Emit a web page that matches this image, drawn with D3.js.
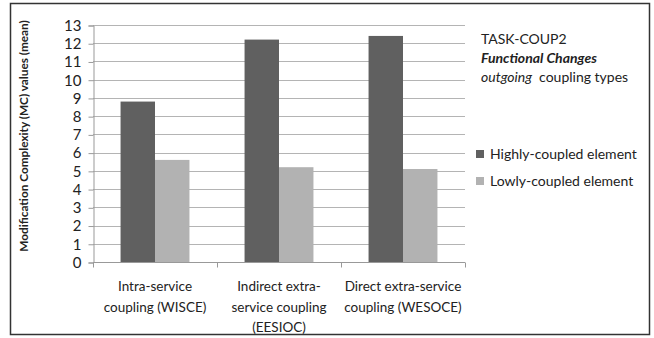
<!DOCTYPE html>
<html>
<head>
<meta charset="utf-8">
<script src="https://cdn.jsdelivr.net/npm/d3@7"></script>
<style>
  body { margin: 0; background: #fff; }
  text { font-family: Lato, "Open Sans", sans-serif; fill: #222; }
</style>
</head>
<body>
<div id="chart"></div>
<script>
(function () {
  var categories = [
    ['Intra-service', 'coupling (WISCE)'],
    ['Indirect extra-', 'service coupling', '(EESIOC)'],
    ['Direct extra-service', 'coupling (WESOCE)']
  ];
  var seriesNames = ['Highly-coupled element', 'Lowly-coupled element'];
  var highly = [8.8, 12.2, 12.4];
  var lowly = [5.6, 5.2, 5.1];
  var yTicks = [0, 1, 2, 3, 4, 5, 6, 7, 8, 9, 10, 11, 12, 13];
  var colors = ['#606060', '#b2b2b2'];

  var width = 654, height = 338;
  var left = 93, right = 465, top = 25, bottom = 262;

  var svg = d3.select('#chart').append('svg')
        .attr('width', width)
        .attr('height', height);

  // outer frame
  svg.append('rect')
    .attr('x', 10.5).attr('y', 3.5)
    .attr('width', 639).attr('height', 331)
    .attr('fill', 'none')
    .attr('stroke', '#333')
    .attr('stroke-width', 1.5);

  var x = d3.scaleBand()
        .domain(d3.range(categories.length))
        .range([left, right]);

  var xInner = d3.scaleBand()
        .domain([0, 1])
        .range([0, x.bandwidth()])
        .paddingOuter(0.8)
        .paddingInner(0);

  var y = d3.scaleLinear()
        .domain([0, 13])
        .range([bottom, top]);

  // gridlines
  svg.append('g')
    .selectAll('line')
    .data(yTicks.slice(1))
    .enter().append('line')
    .attr('x1', left).attr('x2', right)
    .attr('y1', function (d) { return Math.round(y(d)) + 0.5; })
    .attr('y2', function (d) { return Math.round(y(d)) + 0.5; })
    .attr('stroke', '#b4b4b4')
    .attr('stroke-width', 1);

  // y axis
  var yAxis = svg.append('g')
    .attr('transform', 'translate(' + (left + 0.5) + ',0.5)')
    .call(d3.axisLeft(y).tickValues(yTicks).tickSize(5).tickPadding(7));
  yAxis.select('.domain').attr('stroke', '#999');
  yAxis.selectAll('.tick line').attr('stroke', '#999');
  yAxis.selectAll('text')
    .style('font-size', '15px')
    .attr('fill', '#222');

  // bars
  var groups = svg.append('g')
    .selectAll('g')
    .data(categories)
    .enter().append('g')
    .attr('transform', function (d, i) { return 'translate(' + x(i) + ',0)'; });

  groups.selectAll('rect')
    .data(function (d, i) { return [highly[i], lowly[i]]; })
    .enter().append('rect')
    .attr('x', function (d, j) { return xInner(j); })
    .attr('width', xInner.bandwidth())
    .attr('y', function (d) { return y(d); })
    .attr('height', function (d) { return bottom - y(d); })
    .attr('fill', function (d, j) { return colors[j]; });

  // x axis
  var xAxis = svg.append('g')
    .attr('transform', 'translate(0,' + (bottom + 0.5) + ')');
  xAxis.append('line')
    .attr('x1', left).attr('x2', right)
    .attr('stroke', '#999');
  xAxis.selectAll('.tk')
    .data(d3.range(categories.length + 1))
    .enter().append('line')
    .attr('class', 'tk')
    .attr('x1', function (d) { return Math.round(left + d * x.bandwidth()) + 0.5; })
    .attr('x2', function (d) { return Math.round(left + d * x.bandwidth()) + 0.5; })
    .attr('y1', 0).attr('y2', 5)
    .attr('stroke', '#999');

  var labels = svg.append('g')
    .selectAll('text')
    .data(categories)
    .enter().append('text')
    .attr('text-anchor', 'middle')
    .style('font-size', '13.5px');
  labels.each(function (d, i) {
    d3.select(this).selectAll('tspan')
      .data(d)
      .enter().append('tspan')
      .attr('x', x(i) + x.bandwidth() / 2)
      .attr('y', function (t, k) { return 291 + k * 20.5; })
      .text(function (t) { return t; });
  });

  // y axis title
  svg.append('text')
    .attr('transform', 'translate(28,136) rotate(-90)')
    .attr('text-anchor', 'middle')
    .style('font-size', '11.8px')
    .style('font-weight', 'bold')
    .text('Modification Complexity (MC) values (mean)');

  // chart notes
  var notes = svg.append('g').attr('transform', 'translate(481,0)');
  notes.append('text').attr('y', 44).style('font-size', '14px').text('TASK-COUP2');
  notes.append('text').attr('y', 63).style('font-size', '14px')
    .style('font-weight', 'bold').style('font-style', 'italic')
    .text('Functional Changes');
  var third = notes.append('text').attr('y', 82).style('font-size', '14px');
  third.append('tspan').style('font-style', 'italic').text('outgoing');
  third.append('tspan').text('\u00a0 coupling types');

  // legend
  var legend = svg.append('g')
    .selectAll('g')
    .data(seriesNames)
    .enter().append('g')
    .attr('transform', function (d, i) { return 'translate(476,' + (150 + i * 27) + ')'; });
  legend.append('rect')
    .attr('width', 8).attr('height', 8)
    .attr('fill', function (d, i) { return colors[i]; });
  legend.append('text')
    .attr('x', 14).attr('y', 9)
    .style('font-size', '14px')
    .text(function (d) { return d; });
})();
</script>
</body>
</html>
